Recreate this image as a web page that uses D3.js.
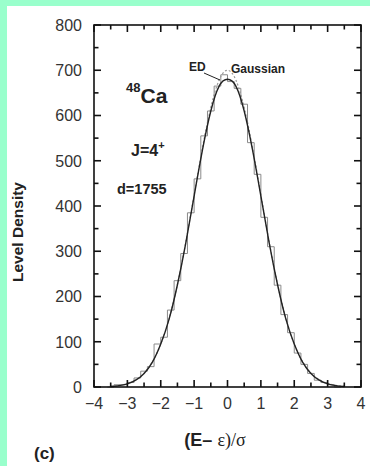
<!DOCTYPE html>
<html>
<head>
<meta charset="utf-8">
<script src="https://cdn.jsdelivr.net/npm/d3@7"></script>
<style>
  body { margin: 0; background: #99ffcc; }
  svg { display: block; }
</style>
</head>
<body>
<svg id="chart" width="370" height="466"></svg>
<script>
// histogram of ED levels, bin width 0.2, first bin starts at -3.6
var binStart = -3.6, binWidth = 0.2;
var edHist = [0, 5, 5, 10, 20, 35, 45, 95, 110, 170, 235, 295, 385, 460, 555, 610, 665, 690,
  675, 660, 625, 540, 470, 375, 310, 225, 160, 120, 75, 50, 30, 15, 10, 5, 0];

// smooth curves
var curveX = [-3.5, -3.25, -3, -2.75, -2.5, -2.25, -2, -1.75, -1.5, -1.25, -1, -0.75, -0.5, -0.25,
  0, 0.25, 0.5, 0.75, 1, 1.25, 1.5, 1.75, 2, 2.25, 2.5, 2.75, 3, 3.25, 3.5];
var edCurve = [1, 3, 7, 15, 30, 55, 95, 150, 226, 318, 422, 524, 610, 665,
  680, 665, 610, 524, 422, 318, 226, 150, 95, 55, 30, 15, 7, 3, 1];
var gaussCurve = [1.5, 3.6, 7.8, 16, 30.7, 55.7, 94.7, 151.4, 227.2, 320.5, 424.6, 528.4, 617.8, 678.5,
  700, 678.5, 617.8, 528.4, 424.6, 320.5, 227.2, 151.4, 94.7, 55.7, 30.7, 16, 7.8, 3.6, 1.5];

var xTicks = [-4, -3, -2, -1, 0, 1, 2, 3, 4];
var yTicks = [0, 100, 200, 300, 400, 500, 600, 700, 800];

var my = {
  svg: d3.select('#chart'),
  left: 94, right: 361, top: 25, bottom: 387,
  font: 'Liberation Sans, Arial, Helvetica, sans-serif'
};

var x = d3.scaleLinear().domain([-4, 4]).range([my.left, my.right]);
var y = d3.scaleLinear().domain([0, 800]).range([my.bottom, my.top]);

// white panel over the green page
my.svg.append('rect')
  .attr('x', 7).attr('y', 6).attr('width', 363).attr('height', 460)
  .attr('fill', '#fff');

var g = my.svg.append('g');

// histogram as a step outline
var steps = edHist.map(function(d, i) { return [binStart + i * binWidth, d]; });
steps.push([binStart + edHist.length * binWidth, edHist[edHist.length - 1]]);

var stepLine = d3.line()
  .x(function(d) { return x(d[0]); })
  .y(function(d) { return y(d[1]); })
  .curve(d3.curveStepAfter);

g.append('path')
  .datum(steps)
  .attr('d', stepLine)
  .attr('fill', 'none')
  .attr('stroke', '#8a8a8a')
  .attr('stroke-width', 1);

var line = d3.line()
  .x(function(d) { return x(d[0]); })
  .y(function(d) { return y(d[1]); })
  .curve(d3.curveNatural);

g.append('path')
  .datum(d3.zip(curveX, gaussCurve))
  .attr('d', line)
  .attr('fill', 'none')
  .attr('stroke', '#999')
  .attr('stroke-width', 1.2)
  .attr('stroke-dasharray', '2,2');

g.append('path')
  .datum(d3.zip(curveX, edCurve))
  .attr('d', line)
  .attr('fill', 'none')
  .attr('stroke', '#222')
  .attr('stroke-width', 1.4);

// frame and inward ticks on all four sides
var axes = my.svg.append('g').attr('stroke', '#111');
axes.append('rect')
  .attr('x', my.left).attr('y', my.top)
  .attr('width', my.right - my.left).attr('height', my.bottom - my.top)
  .attr('fill', 'none').attr('stroke-width', 1.6);

var xMinor = d3.range(-3.5, 4, 1);
var yMinor = d3.range(50, 800, 100);

function tickSet(vals, len, horiz) {
  vals.forEach(function(v) {
    if (horiz) {
      axes.append('line').attr('x1', x(v)).attr('x2', x(v))
        .attr('y1', my.bottom).attr('y2', my.bottom - len).attr('stroke-width', 1.6);
      axes.append('line').attr('x1', x(v)).attr('x2', x(v))
        .attr('y1', my.top).attr('y2', my.top + len).attr('stroke-width', 1.6);
    } else {
      axes.append('line').attr('y1', y(v)).attr('y2', y(v))
        .attr('x1', my.left).attr('x2', my.left + len).attr('stroke-width', 1.6);
      axes.append('line').attr('y1', y(v)).attr('y2', y(v))
        .attr('x1', my.right).attr('x2', my.right - len).attr('stroke-width', 1.6);
    }
  });
}
tickSet(xTicks, 7, true);
tickSet(xMinor, 4.5, true);
tickSet(yTicks, 7, false);
tickSet(yMinor, 4.5, false);

// tick labels
my.svg.append('g').selectAll('text')
  .data(yTicks)
  .enter().append('text')
  .attr('x', 82).attr('y', function(d) { return y(d); })
  .attr('dy', '0.36em')
  .attr('text-anchor', 'end')
  .attr('font-family', my.font).attr('font-size', 16).attr('fill', '#333')
  .text(function(d) { return d; });

my.svg.append('g').selectAll('text')
  .data(xTicks)
  .enter().append('text')
  .attr('x', function(d) { return x(d); }).attr('y', 409)
  .attr('text-anchor', 'middle')
  .attr('font-family', my.font).attr('font-size', 16).attr('fill', '#333')
  .text(function(d) { return d < 0 ? '\u2212' + Math.abs(d) : d; });

// axis titles
my.svg.append('text')
  .attr('transform', 'translate(23,232) rotate(-90)')
  .attr('text-anchor', 'middle')
  .attr('font-family', my.font).attr('font-size', 15.5).attr('font-weight', 'bold').attr('fill', '#222')
  .text('Level Density');

var xt = my.svg.append('text')
  .attr('x', 215).attr('y', 446)
  .attr('text-anchor', 'middle')
  .attr('font-size', 18).attr('fill', '#222');
xt.append('tspan').attr('font-family', my.font).attr('font-weight', 'bold').text('(E\u2013 ');
xt.append('tspan').attr('font-family', 'Liberation Serif, Times New Roman, serif').text('\u03b5)/\u03c3');

my.svg.append('text')
  .attr('x', 34).attr('y', 459)
  .attr('font-family', my.font).attr('font-size', 17).attr('font-weight', 'bold').attr('fill', '#222')
  .text('(c)');

// annotations inside the plot
var ca = my.svg.append('text')
  .attr('x', 126).attr('y', 103)
  .attr('font-family', my.font).attr('font-weight', 'bold').attr('fill', '#222');
ca.append('tspan').attr('font-size', 13).attr('dy', -11).text('48');
ca.append('tspan').attr('font-size', 21).attr('dy', 11).text('Ca');

var jt = my.svg.append('text')
  .attr('x', 131).attr('y', 156)
  .attr('font-family', my.font).attr('font-weight', 'bold').attr('fill', '#222');
jt.append('tspan').attr('font-size', 16).text('J=4');
jt.append('tspan').attr('font-size', 11).attr('dy', -7).text('+');

my.svg.append('text')
  .attr('x', 117).attr('y', 194)
  .attr('font-family', my.font).attr('font-size', 14.5).attr('font-weight', 'bold').attr('fill', '#222')
  .text('d=1755');

my.svg.append('text')
  .attr('x', 189).attr('y', 71)
  .attr('font-family', my.font).attr('font-size', 12).attr('font-weight', 'bold').attr('fill', '#222')
  .text('ED');
my.svg.append('text')
  .attr('x', 231).attr('y', 73)
  .attr('font-family', my.font).attr('font-size', 12).attr('font-weight', 'bold').attr('fill', '#222')
  .text('Gaussian');
my.svg.append('line')
  .attr('x1', 204).attr('y1', 73).attr('x2', 220).attr('y2', 80)
  .attr('stroke', '#222').attr('stroke-width', 1);
</script>
</body>
</html>
